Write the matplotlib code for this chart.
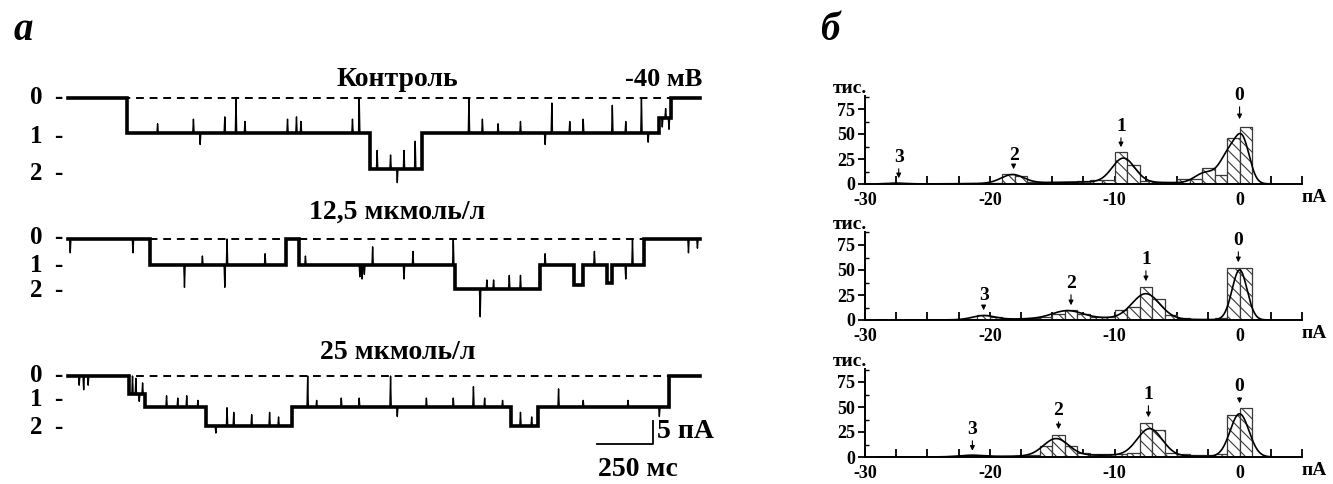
import numpy as np
import matplotlib
matplotlib.use('Agg')
import matplotlib.pyplot as plt
from matplotlib.ticker import MultipleLocator

plt.rcParams['font.family'] = ['Liberation Serif', 'DejaVu Serif']
plt.rcParams['font.weight'] = 'bold'
plt.rcParams['axes.unicode_minus'] = False
plt.rcParams['hatch.linewidth'] = 0.8

# ---------------- panel a: single-channel records ----------------
# segments: (start ms, end ms, current pA); spikes: (time ms, jump pA from level)
trace_titles = ['Контроль', '12,5 мкмоль/л', '25 мкмоль/л']
levels_1 = [0.0, -7.6, -15.4]
levels_2 = [0.0, -5.7, -10.9]
levels_3 = [0.0, -6.8, -10.9]

segments_1 = [(0, 263, 0.0), (263, 1347, -7.6), (1347, 1579, -15.4), (1579, 2640, -7.6),
              (2640, 2694, -4.3), (2694, 2820, 0.0)]
spikes_1 = [(397, 2), (557, 3), (587, -2.5), (697, 3.5), (747, 7.6), (787, 2.5), (977, 3),
            (1017, 3.5), (1037, 2.5), (1267, 3), (1297, 7.6), (1377, 4), (1437, 3), (1467, -3),
            (1497, 4), (1547, 6), (1787, 7.6), (1847, 3), (1917, 2), (2017, 2.5), (2127, -2.5),
            (2157, 6.5), (2237, 2.5), (2297, 3), (2427, 6), (2487, 2.5), (2557, 7.6), (2587, -2),
            (2650, -2), (2665, 2), (2680, -2.5)]

segments_2 = [(0, 366, 0.0), (366, 972, -5.7), (972, 1030, 0.0), (1030, 1726, -5.7),
              (1726, 2105, -10.9), (2105, 2257, -5.7), (2257, 2297, -10.0), (2297, 2407, -5.7),
              (2407, 2427, -9.5), (2427, 2573, -5.7), (2573, 2820, 0.0)]
spikes_2 = [(7, -3), (287, -3), (517, -4.8), (597, 2), (697, -4.8), (707, 5.7), (877, 2.5),
            (1057, 2), (1300, -2.5), (1310, -3), (1320, -2), (1357, 4), (1497, -3), (1537, 3),
            (1717, 5.7), (1837, -6), (1867, 2), (1897, 2), (1967, 3), (2017, 3), (2127, 2.5),
            (2347, 3), (2487, -3), (2517, 5.7), (2767, -3), (2807, -2)]

segments_3 = [(0, 272, 0.0), (272, 343, -4.0), (343, 615, -6.8), (615, 999, -10.9),
              (999, 1976, -6.8), (1976, 2096, -10.9), (2096, 2685, -6.8), (2685, 2820, 0.0)]
spikes_3 = [(47, -2), (67, -3), (87, -2), (285, 4), (300, 3.5), (315, -1.5), (330, 2.5),
            (437, 2.5), (487, 2), (527, 2.5), (577, 1.5), (657, -1.5), (707, 4), (737, 3),
            (817, 2.5), (897, 3), (937, 2), (1067, 6.8), (1107, 1.5), (1217, 2), (1297, 2),
            (1437, 6.8), (1467, -2), (1597, 2), (1717, 2), (1807, 4.5), (1857, 2), (1937, 1.5),
            (2017, 3), (2067, 2), (2187, 4), (2297, 1.5), (2497, 1.5), (2637, -2)]

# ---------------- panel b: amplitude histograms (thousands) ----------------
hist_left_1 = list(range(-28, 1))
hist_1 = [1, 0.5, 0.3, 0, 0, 0, 0, 0.3, 1, 10.5, 8.5, 2, 1.5, 1.5, 2, 3, 4, 4, 32, 19,
          3, 2.5, 2.5, 5, 5, 16, 9, 46, 57]
hist_left_2 = list(range(-23, 1))
hist_2 = [0.5, 1.5, 5.5, 3, 1.5, 1.5, 2.5, 3, 6, 10, 6, 3, 3, 10, 13, 33.5, 21, 5, 2.5,
          1.5, 1.5, 2.5, 52, 52]
hist_left_3 = list(range(-23, 1))
hist_3 = [0.5, 2.5, 1.5, 1, 1, 1, 2.5, 11, 22, 11, 4, 3, 3, 3, 4.5, 34, 27.5, 4, 3,
          2.5, 2.5, 3, 42, 49]

# fitted components (centre pA, amplitude, width)
fit_1 = [(-27.5, 0.8, 0.8), (-18.2, 8.5, 0.9), (-11, 2, 6), (-9.3, 24, 0.9),
         (-2.8, 10, 0.8), (-0.7, 33, 0.8), (0.3, 32, 0.55)]
fit_2 = [(-20.5, 4, 0.9), (-13.8, 7.5, 1.2), (-12, 2, 5), (-7.5, 25, 1.1), (0, 50, 0.6)]
fit_3 = [(-21.5, 1.5, 1.0), (-14.7, 17, 1.0), (-11, 1.8, 5.5), (-7.2, 27, 1.0), (0, 43, 0.75)]

# level markers: (label, x pA, text y, arrow tip y)
marks_1 = [('3', -27.3, 24, 3), ('2', -18.1, 26, 12), ('1', -9.5, 55, 34), ('0', 0.0, 86, 62)]
marks_2 = [('3', -20.5, 22, 7), ('2', -13.5, 34, 12), ('1', -7.5, 58, 36), ('0', -0.1, 77, 55)]
marks_3 = [('3', -21.4, 25, 3.5), ('2', -14.5, 44, 25), ('1', -7.3, 60, 37), ('0', 0.0, 68, 51)]


def build_trace(segments, spikes):
    xs, ys = [], []
    for t0, t1, lev in segments:
        xs.append(t0)
        ys.append(lev)
        for ts, a in spikes:
            if t0 <= ts < t1:
                xs += [ts, ts + 3, ts + 6]
                ys += [lev, lev + a, lev]
        xs.append(t1)
        ys.append(lev)
    return np.array(xs), np.array(ys)


W, H = 1333, 484
fig = plt.figure(figsize=(W / 100, H / 100), dpi=100)

ms_px = 250 / 56.0
pa_px = 5 / 23.0
axa = fig.add_axes([0, 0, 760 / W, 1])
axa.set_xlim(-68 * ms_px, (760 - 68) * ms_px)
axa.set_ylim(-(H - 98) * pa_px, 98 * pa_px)
axa.axis('off')

offsets = [0, -(239 - 98) * pa_px, -(376 - 98) * pa_px]
all_segments = [segments_1, segments_2, segments_3]
all_spikes = [spikes_1, spikes_2, spikes_3]
all_levels = [levels_1, levels_2, levels_3]
title_y = [4.0, -24.8, -55.4]
label_shift = [[0, -0.8, -1.0], [0.3, 0, -0.4], [0, 1.6, -0.2]]

for k in range(3):
    off = offsets[k]
    xs, ys = build_trace(all_segments[k], all_spikes[k])
    axa.plot([0, 2820], [off, off], color='k', lw=1.4, ls=(0, (4, 3)))
    # thick band for the open/closed levels, thin line for the brief events
    bx, by = build_trace(all_segments[k], [])
    axa.plot(bx, by + off, color='k', lw=2.6, solid_joinstyle='miter')
    axa.plot(xs, ys + off, color='k', lw=1.0)
    for n, lev in enumerate(all_levels[k]):
        axa.text(-22, lev + off + label_shift[k][n], '%d  -' % n, ha='right', va='center',
                 fontsize=18)
    axa.text(1470, title_y[k], trace_titles[k], ha='center', va='center', fontsize=20)

axa.text(2830, 4.0, '-40 мВ', ha='right', va='center', fontsize=19)

# scale bar
sb_x, sb_y = 2610, -75.2
axa.plot([sb_x - 250, sb_x, sb_x], [sb_y, sb_y, sb_y + 5], color='k', lw=1.3)
axa.text(sb_x + 18, sb_y + 2.6, '5 пА', ha='left', va='center', fontsize=20)
axa.text(sb_x - 65, sb_y - 5.6, '250 мс', ha='center', va='center', fontsize=20)

fig.text(14 / W, 1 - 31 / H, 'а', fontsize=28, style='italic', weight='bold', va='center')
fig.text(820 / W, 1 - 31 / H, 'б', fontsize=28, style='italic', weight='bold', va='center')

# histograms
zero_px = [184, 320, 457]
all_left = [hist_left_1, hist_left_2, hist_left_3]
all_hist = [hist_1, hist_2, hist_3]
all_fit = [fit_1, fit_2, fit_3]
all_marks = [marks_1, marks_2, marks_3]
xc = np.linspace(-29, 2.5, 600)

for k in range(3):
    ax = fig.add_axes([865 / W, (H - zero_px[k]) / H, 437 / W, 88 / H])
    ax.bar(all_left[k], all_hist[k], width=1, align='edge', facecolor='white',
           edgecolor='#3a3a3a', hatch='\\\\\\', lw=0.9, zorder=2)
    yc = np.zeros_like(xc)
    for c, a, s in all_fit[k]:
        yc += a * np.exp(-(xc - c) ** 2 / (2 * s ** 2))
    ax.plot(xc, yc, color='k', lw=1.2, zorder=3)
    ax.set_xlim(-30, 5)
    ax.set_ylim(0, 88)
    for sp in ['top', 'right']:
        ax.spines[sp].set_visible(False)
    ax.spines['bottom'].set_linewidth(1.4)
    ax.spines['left'].set_linewidth(1.4)
    ax.set_xticks([-30, -20, -10, 0])
    ax.xaxis.set_minor_locator(MultipleLocator(2.5))
    ax.set_yticks([0, 25, 50, 75])
    ax.yaxis.set_minor_locator(MultipleLocator(12.5))
    ax.tick_params(axis='x', which='both', direction='in', length=6, width=1.3,
                   labelsize=13, pad=6)
    ax.tick_params(axis='y', which='major', direction='out', length=5, width=1.3,
                   labelsize=13, pad=2)
    ax.tick_params(axis='y', which='minor', direction='in', length=3, width=1.0)
    ax.set_facecolor('none')
    ax.text(-31.2, 87, 'тис.', ha='center', va='bottom', fontsize=14)
    ax.text(6.0, -5, 'пА', ha='center', va='top', fontsize=14)
    for lab, x, ty, tip in all_marks[k]:
        ax.annotate('', xy=(x, tip), xytext=(x, ty - 6),
                    arrowprops=dict(arrowstyle='-|>', color='k', lw=0.8, mutation_scale=7),
                    annotation_clip=False)
        ax.text(x, ty - 6, lab, ha='center', va='bottom', fontsize=14)

fig.savefig('out.png', dpi=100)
